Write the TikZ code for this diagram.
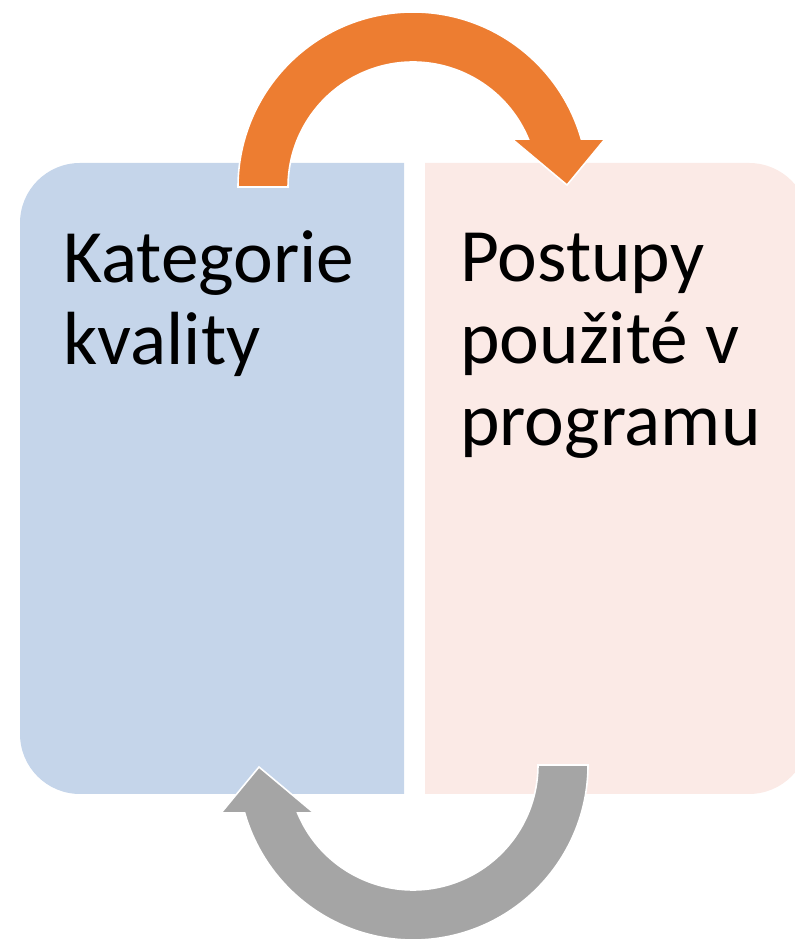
\documentclass[tikz,border=0pt]{standalone}
\usepackage{fontspec}
\setmainfont{Carlito}
\definecolor{panelblue}{HTML}{C5D5EA}
\definecolor{panelpink}{HTML}{FBEAE6}
\definecolor{arroworange}{HTML}{ED7D31}
\definecolor{arrowgray}{HTML}{A5A5A5}
\tikzset{
  panelL/.style={fill=panelblue},
  panelR/.style={fill=panelpink},
  bigarrow/.style={draw=white,line width=1.2pt,line join=miter},
  paneltext/.style={inner sep=0pt,anchor=base west,align=left,text=black,
    font=\fontsize{56.5}{61.5}\selectfont}
}
\begin{document}
\begin{tikzpicture}[x=0.75pt,y=0.75pt]
\useasboundingbox (0,0) rectangle (795,945);
% panels
\fill[panelL] (404,151) -- (80,151) arc[start angle=270,end angle=180,radius=60]
  -- (20,722) arc[start angle=180,end angle=90,radius=60] -- (404,782) -- cycle;
\fill[panelR] (425,151) -- (749,151) arc[start angle=270,end angle=360,radius=60]
  -- (809,722) arc[start angle=0,end angle=90,radius=60] -- (425,782) -- cycle;
% texts (anchor is the baseline of the last line)
\node[paneltext] (kat) at (63,580) {Kategorie\\kvality};
\node[paneltext] (post) at (460,499) {Postupy\\použité v\\programu};
% top arrow
\path[bigarrow,fill=arroworange] (238,758) arc[start angle=180,end angle=15.9,radius=175]
  -- (605,806) -- (567,760) -- (512,806) -- (528.4,806)
  arc[start angle=22.6,end angle=180,radius=125] -- cycle;
% bottom arrow
\path[bigarrow,fill=arrowgray,rotate around={180:(413,469)}] (238,758) arc[start angle=180,end angle=15.9,radius=175]
  -- (605,806) -- (567,760) -- (512,806) -- (528.4,806)
  arc[start angle=22.6,end angle=180,radius=125] -- cycle;
\end{tikzpicture}
\end{document}
